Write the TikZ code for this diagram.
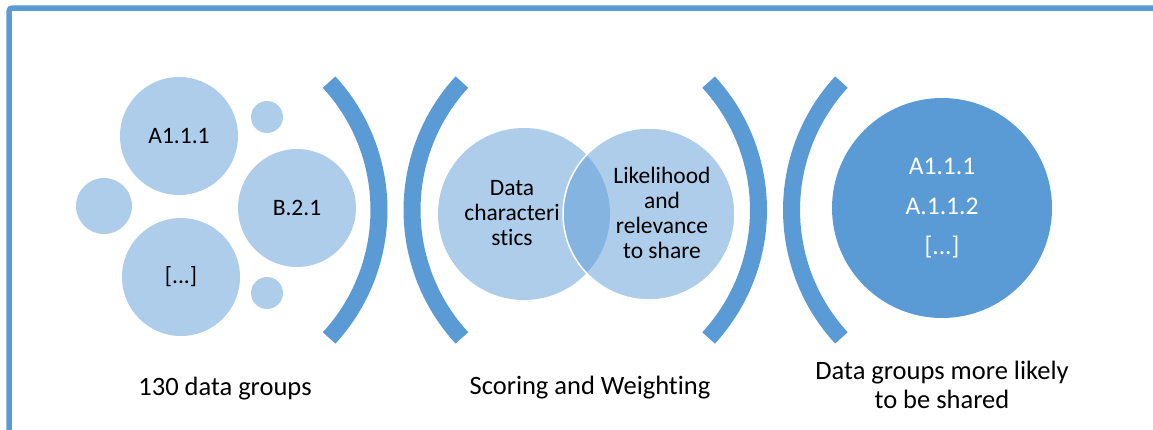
\documentclass[tikz,border=0pt]{standalone}
\usepackage{fontspec}
\setmainfont{Carlito}[Ligatures={NoCommon}]
\usetikzlibrary{positioning}
\definecolor{accent}{RGB}{91,155,213}
\definecolor{pale}{RGB}{173,205,234}
\tikzset{
blob/.style = {circle, fill=pale, inner sep=0pt, minimum size=#1, font=\fontsize{23.5}{26}\selectfont},
bigblob/.style = {circle, fill=accent, inner sep=0pt, minimum size=220pt, text=white, align=center, font=\fontsize{25.5}{40}\selectfont},
venn/.style = {circle, fill=accent, fill opacity=0.5, inner sep=0pt, minimum size=172pt},
venntext/.style = {align=center, font=\fontsize{23.5}{25.2}\selectfont},
bracket/.style = {draw=accent, line width=17pt},
caption/.style = {align=center, font=\fontsize{26.5}{28.5}\selectfont},
frame/.style = {draw=accent, line width=5.5pt, rounded corners=3pt}
}
\begin{document}
\begin{tikzpicture}[x=1pt, y=-1pt]
    \useasboundingbox (0,0) rectangle (1153,429);
    \draw [frame] (9.2,470) |- (1190,8);

    % input groups
    \node [blob=118pt] (a111) at (179,136) {A1.1.1};
    \node [blob=118pt] (b21) at (297,208) {B.2.1};
    \node [blob=118pt] (more) at (181,277) {[...]};
    \node [blob=56pt] (left) at (104,206) {};
    \node [blob=32pt] (top) at (267,117) {};
    \node [blob=32pt] (bottom) at (267,293) {};

    % scoring
    \node [venn] (datachar) at (524,214) {};
    \node [venn, draw=white, draw opacity=1, line width=1.5pt] (likely) at (649,214) {};
    \node [venntext] (datatext) at (512,213) {Data\\characteri\\stics};
    \node [venntext] (likelytext) at (662,213) {Likelihood\\and\\relevance\\to share};

    % result
    \node [bigblob] (result) at (942,208) {A1.1.1\\A.1.1.2\\{[...]}};

    % brackets
    \draw [bracket] (329.1,82.1) arc [start angle=-42.6, end angle=42.6, radius=189];
    \draw [bracket] (461.9,337.9) arc [start angle=137.4, end angle=222.6, radius=189];
    \draw [bracket] (708.6,82.1) arc [start angle=-42.6, end angle=42.6, radius=189];
    \draw [bracket] (841.4,337.9) arc [start angle=137.4, end angle=222.6, radius=189];

    % captions
    \node [caption, anchor=base] (groups) at (225,395) {130 data groups};
    \node [caption, anchor=base] (scoring) at (590,394.5) {Scoring and Weighting};
    \node [caption] (shared) at (942,385) {Data groups more likely\\to be shared};
\end{tikzpicture}
\end{document}
